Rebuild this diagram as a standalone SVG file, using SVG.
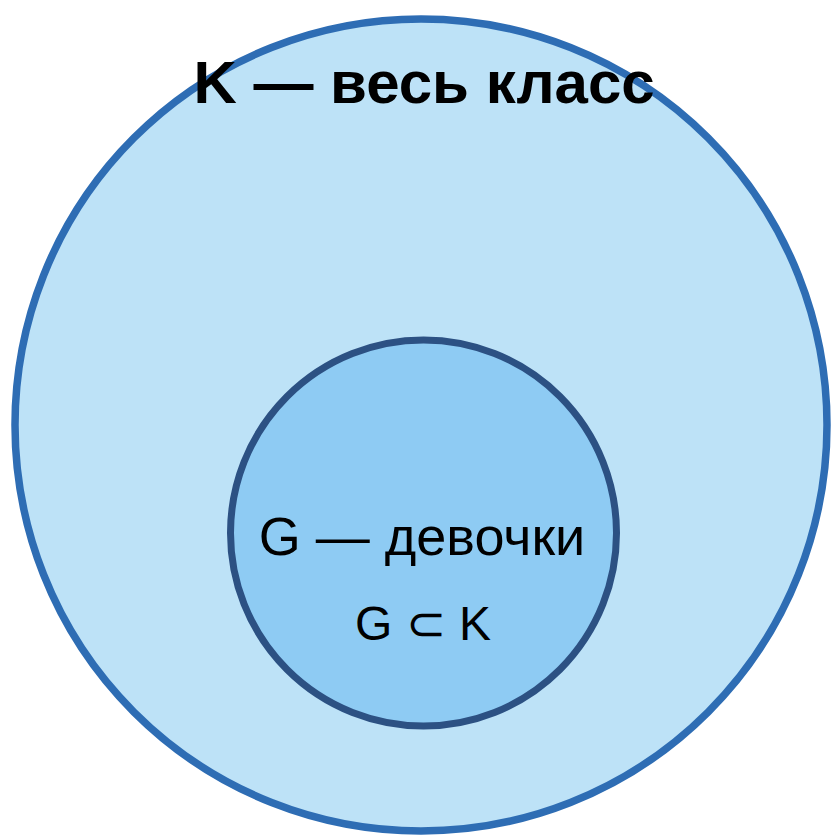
<svg xmlns="http://www.w3.org/2000/svg" width="831" height="836" viewBox="0 0 831 836">
<style>
.t{font-family:"Liberation Sans",Arial,sans-serif;fill:#000;text-anchor:middle}
</style>
<rect width="831" height="836" fill="#fff"/>
<g id="K">
<circle cx="421" cy="425" r="406" fill="#bde2f7" stroke="#2e6db4" stroke-width="7.5"/>
<text class="t" x="424" y="103" font-size="60" font-weight="bold">K — весь класс</text>
</g>
<g id="G">
<circle cx="423.5" cy="533" r="193" fill="#8ecbf3" stroke="#2c5183" stroke-width="7"/>
<text class="t" x="422" y="555" font-size="54">G — девочки</text>
<text class="t" x="423" y="640" font-size="48">G ⊂ K</text>
</g>
<g id="connectors"/>
</svg>
